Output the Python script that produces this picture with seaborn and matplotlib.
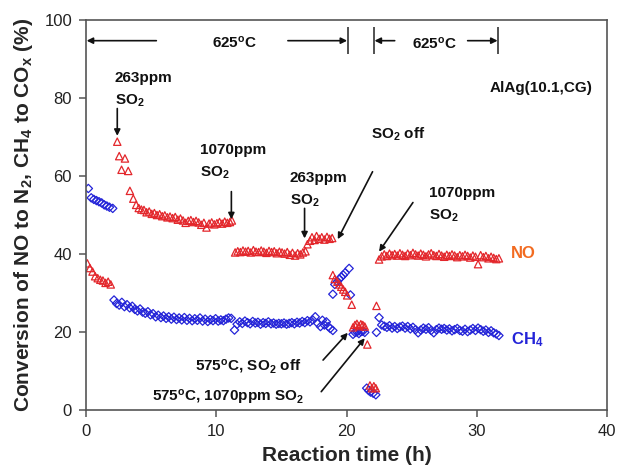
import matplotlib
matplotlib.use("Agg")
import matplotlib.pyplot as plt
import seaborn as sns
import pandas as pd

# ---------------- data ----------------
no_time = [0.1, 0.3, 0.5, 0.7, 0.9, 1.1, 1.3, 1.5, 1.7, 1.9,
           2.40, 2.55, 2.99, 2.73, 3.24, 3.37, 3.63, 3.85, 4.05, 4.25,
           4.45, 4.65, 4.85, 5.05, 5.25, 5.45, 5.65, 5.85, 6.05, 6.25,
           6.45, 6.65, 6.85, 7.05, 7.25, 7.45, 7.65, 7.85, 8.05, 8.25,
           8.45, 8.65, 8.85, 9.05, 9.25, 9.45, 9.65, 9.85, 10.05, 10.25,
           10.45, 10.65, 10.85, 11.05, 11.2,
           11.45, 11.65, 11.85, 12.05, 12.25, 12.45, 12.65, 12.85, 13.05, 13.25,
           13.45, 13.65, 13.85, 14.05, 14.25, 14.45, 14.65, 14.85, 15.05, 15.25,
           15.45, 15.65, 15.85, 16.05, 16.25, 16.45, 16.65, 16.85,
           17.0, 17.2, 17.35, 17.55, 17.7, 17.9, 18.1, 18.3, 18.5, 18.7, 18.9,
           18.95, 19.1, 19.3, 19.45, 19.6, 19.75, 19.9, 20.05, 20.4,
           20.5, 20.65, 20.8, 20.95, 21.1, 21.25, 21.4, 21.6,
           21.8, 21.95, 22.1, 22.25, 22.3,
           22.5, 22.7, 22.9, 23.1, 23.3, 23.5, 23.7, 23.9, 24.1, 24.3,
           24.5, 24.7, 24.9, 25.1, 25.3, 25.5, 25.7, 25.9, 26.1, 26.3,
           26.5, 26.7, 26.9, 27.1, 27.3, 27.5, 27.7, 27.9, 28.1, 28.3,
           28.5, 28.7, 28.9, 29.1, 29.3, 29.5, 29.7, 29.9, 30.1, 30.3,
           30.5, 30.7, 30.9, 31.1, 31.3, 31.5, 31.7]
no_conv = [37.6, 36.4, 35.5, 34.3, 33.8, 33.4, 33.2, 32.6, 32.9, 32.2,
           68.8, 65.1, 64.5, 61.6, 61.3, 56.2, 54.2, 52.6, 51.8, 51.4,
           51.3, 50.7, 50.9, 50.3, 50.5, 50.0, 50.2, 49.7, 49.9, 49.4,
           49.6, 49.2, 49.5, 48.8, 49.1, 48.6, 48.0, 48.5, 48.7, 48.2,
           48.5, 48.1, 47.5, 48.0, 46.8, 47.8, 48.1, 47.6, 47.9, 48.2,
           47.8, 48.3, 48.0, 48.2, 48.6,
           40.4, 40.7, 40.5, 40.9, 40.6, 40.8, 40.4, 41.0, 40.6, 40.5,
           40.9, 40.6, 40.3, 40.8, 40.5, 40.7, 40.2, 40.6, 40.4, 40.1,
           40.5, 39.8, 40.3, 39.6, 40.2, 39.9, 40.4, 40.7,
           42.5, 43.4, 44.3, 43.6, 44.6, 43.9, 44.3, 43.7, 44.4, 43.9, 44.1,
           34.6, 33.6, 32.9, 32.2, 31.6, 30.9, 30.3, 29.4, 27.0,
           21.2, 21.8, 22.1, 21.5, 22.0, 21.8, 21.4, 16.8,
           6.3, 5.6, 6.1, 5.6, 26.7,
           38.6, 39.4, 39.9, 39.5, 40.1, 39.7, 40.0, 39.6, 40.2, 39.8,
           39.5, 40.1, 39.7, 40.3, 39.9, 39.6, 40.1, 39.8, 39.4, 39.9,
           40.2, 39.7, 39.5, 40.0, 39.6, 39.3, 39.8, 39.5, 39.9, 39.6,
           39.2, 39.7, 39.4, 39.8, 39.5, 39.1, 39.6, 39.3, 37.4, 39.7,
           39.2, 39.5, 38.9, 39.3, 39.0, 38.7, 38.9]

ch4_time = [0.18, 0.40, 0.60, 0.80, 1.00, 1.20, 1.40, 1.60, 1.80, 2.05,
            2.15, 2.35, 2.55, 2.75, 2.95, 3.15, 3.35, 3.55, 3.75, 3.95,
            4.15, 4.35, 4.55, 4.75, 4.95, 5.15, 5.35, 5.55, 5.75, 5.95,
            6.15, 6.35, 6.55, 6.75, 6.95, 7.15, 7.35, 7.55, 7.75, 7.95,
            8.15, 8.35, 8.55, 8.75, 8.95, 9.15, 9.35, 9.55, 9.75, 9.95,
            10.15, 10.35, 10.55, 10.75, 10.95, 11.15,
            11.4,
            11.6, 11.8, 12.0, 12.2, 12.4, 12.6, 12.8, 13.0, 13.2, 13.4,
            13.6, 13.8, 14.0, 14.2, 14.4, 14.6, 14.8, 15.0, 15.2, 15.4,
            15.6, 15.8, 16.0, 16.2, 16.4, 16.6, 16.8, 17.0, 17.2, 17.4, 17.6,
            17.8, 18.0, 18.15, 18.3, 18.45, 18.6, 18.75, 18.95,
            18.95, 19.1, 19.3, 19.45, 19.6, 19.75, 19.9, 20.2, 20.3,
            20.5, 20.65, 20.8, 20.95, 21.1, 21.25, 21.4,
            21.55, 21.7, 21.85, 22.05, 22.25,
            22.3, 22.5,
            22.7, 22.9, 23.1, 23.3, 23.5, 23.7, 23.9, 24.1, 24.3, 24.5,
            24.7, 24.9, 25.1, 25.3, 25.5, 25.7, 25.9, 26.1, 26.3, 26.5,
            26.7, 26.9, 27.1, 27.3, 27.5, 27.7, 27.9, 28.1, 28.3, 28.5,
            28.7, 28.9, 29.1, 29.3, 29.5, 29.7, 29.9, 30.1, 30.3, 30.5,
            30.7, 30.9, 31.1, 31.3, 31.5, 31.7]
ch4_conv = [56.8, 54.4, 54.0, 53.7, 53.4, 53.1, 52.6, 52.3, 52.0, 51.7,
            28.2, 27.3, 26.9, 27.6, 26.5, 27.0, 26.2, 26.6, 25.8, 25.4,
            25.9, 25.1, 24.8, 25.2, 24.4, 24.7, 23.9, 24.3, 23.7, 24.1,
            23.5, 23.9, 23.3, 23.8, 23.2, 23.6, 23.1, 23.7, 23.0, 23.5,
            22.9, 23.4, 23.0, 23.6, 22.8, 23.3, 22.7, 23.2, 22.9, 23.4,
            22.8, 23.1, 22.9, 23.3, 23.6, 23.5,
            20.5,
            22.0, 22.6, 22.2, 22.8, 22.4, 22.1, 22.7, 22.3, 22.5, 22.0,
            22.4, 22.2, 22.6, 22.1, 22.3, 22.0, 22.2, 22.1, 22.3, 22.0,
            22.2, 22.4, 22.1, 22.5, 22.3, 22.7, 22.4, 22.9, 22.6, 23.1, 23.9,
            22.2, 21.4, 23.0, 21.8, 22.6, 21.4, 20.9, 20.4,
            29.7, 32.2, 32.9, 33.6, 34.1, 34.6, 35.2, 36.3, 29.5,
            19.4, 19.9, 20.0, 19.6, 20.1, 20.2, 19.9,
            5.6, 5.0, 4.6, 4.3, 3.9,
            19.9, 23.7,
            21.8, 21.5, 21.2, 21.6, 21.0, 21.4, 20.9, 21.3, 21.5, 21.0,
            21.4, 20.8, 21.2, 20.6, 19.8, 20.5, 21.0, 20.7, 21.1, 20.4,
            19.8, 20.6, 21.0, 20.7, 20.9, 20.5, 20.8, 20.3, 20.6, 20.9,
            20.4, 20.2, 20.7, 20.1, 20.5, 20.9, 20.4, 21.0, 20.6, 20.2,
            20.5, 19.9, 20.3, 19.8, 19.5, 19.1]

x_ticks = [0, 10, 20, 30, 40]
y_ticks = [0, 20, 40, 60, 80, 100]

# ---------------- style ----------------
sns.set_style("ticks")
plt.rcParams["font.family"] = ["Liberation Sans", "DejaVu Sans"]
plt.rcParams["mathtext.fontset"] = "custom"
plt.rcParams["mathtext.rm"] = "Liberation Sans"
plt.rcParams["mathtext.bf"] = "Liberation Sans:bold"
plt.rcParams["mathtext.it"] = "Liberation Sans:italic"
plt.rcParams["mathtext.default"] = "bf"

RED = "#e3262b"
BLUE = "#2424d8"
ORANGE = "#f26b21"

fig = plt.figure(figsize=(6.17, 4.73), dpi=100)
ax = fig.add_axes([0.1394, 0.1332, 0.8444, 0.8245])

df_no = pd.DataFrame({"t": no_time, "v": no_conv})
df_ch4 = pd.DataFrame({"t": ch4_time, "v": ch4_conv})

sns.scatterplot(data=df_ch4, x="t", y="v", ax=ax, marker="D", s=18,
                color=BLUE, facecolor="none", edgecolor=BLUE, linewidth=0.9)
sns.scatterplot(data=df_no, x="t", y="v", ax=ax, marker="^", s=28,
                color=RED, facecolor="none", edgecolor=RED, linewidth=0.9)

ax.set_xlim(0, 40)
ax.set_ylim(0, 100)
ax.set_xticks(x_ticks)
ax.set_yticks(y_ticks)
ax.tick_params(axis="both", direction="out", length=5, width=1.1,
               labelsize=12, colors="#555555", labelcolor="#222222", pad=5)
for sp in ax.spines.values():
    sp.set_visible(True)
    sp.set_color("#555555")
    sp.set_linewidth(1.2)

ax.set_xlabel("Reaction time (h)", fontsize=15, fontweight="bold", labelpad=5)
ax.set_ylabel("Conversion of NO to N$_2$, CH$_4$ to CO$_x$ (%)",
              fontsize=15, fontweight="bold", labelpad=7)

# ---------------- annotations ----------------
tk = dict(fontsize=11, fontweight="bold", color="#111111", va="baseline")
arr = dict(arrowstyle="-|>", color="#111111", lw=1.2, mutation_scale=9,
           shrinkA=0, shrinkB=0)

# 625 C temperature spans
ax.annotate("", xy=(0.05, 94.7), xytext=(5.4, 94.7), arrowprops=arr)
ax.annotate("", xy=(20.05, 94.7), xytext=(15.5, 94.7), arrowprops=arr)
ax.vlines([20.1, 22.1, 31.65], 91.3, 98.2, color="#333333", lw=1.2)
ax.annotate("", xy=(22.15, 94.7), xytext=(23.7, 94.7), arrowprops=arr)
ax.annotate("", xy=(31.6, 94.7), xytext=(29.3, 94.7), arrowprops=arr)
ax.text(9.7, 93.0, "625$^{o}$C", ha="left", **tk)
ax.text(25.0, 92.7, "625$^{o}$C", ha="left", **tk)

ax.text(38.85, 81.6, "AlAg(10.1,CG)", ha="right", **tk)

ax.text(2.2, 84.2, "263ppm", ha="left", **tk)
ax.text(2.2, 78.2, "SO$_2$", ha="left", **tk)
ax.annotate("", xy=(2.4, 70.3), xytext=(2.4, 77.3), arrowprops=arr)

ax.text(8.74, 65.6, "1070ppm", ha="left", **tk)
ax.text(8.74, 59.8, "SO$_2$", ha="left", **tk)
ax.annotate("", xy=(11.16, 48.9), xytext=(11.16, 56.0), arrowprops=arr)

ax.text(15.63, 58.5, "263ppm", ha="left", **tk)
ax.text(15.63, 52.6, "SO$_2$", ha="left", **tk)
ax.annotate("", xy=(16.78, 44.0), xytext=(16.78, 51.7), arrowprops=arr)

ax.text(21.9, 69.7, "SO$_2$ off", ha="left", **tk)
ax.annotate("", xy=(19.33, 43.8), xytext=(22.0, 61.1), arrowprops=arr)

ax.text(26.36, 54.7, "1070ppm", ha="left", **tk)
ax.text(26.36, 48.9, "SO$_2$", ha="left", **tk)
ax.annotate("", xy=(22.5, 40.6), xytext=(25.1, 53.2), arrowprops=arr)

ax.text(8.35, 10.1, "575$^{o}$C, SO$_2$ off", ha="left", **tk)
ax.text(5.03, 2.1, "575$^{o}$C, 1070ppm SO$_2$", ha="left", **tk)
ax.annotate("", xy=(20.1, 19.8), xytext=(18.2, 12.8), arrowprops=arr)
ax.annotate("", xy=(21.4, 18.4), xytext=(18.06, 4.7), arrowprops=arr)

ax.text(32.6, 38.9, "NO", ha="left", fontsize=12, fontweight="bold",
        color=ORANGE, va="baseline")
ax.text(32.6, 16.9, "CH$_4$", ha="left", fontsize=12, fontweight="bold",
        color=BLUE, va="baseline")

fig.savefig("out.png", dpi=100)
